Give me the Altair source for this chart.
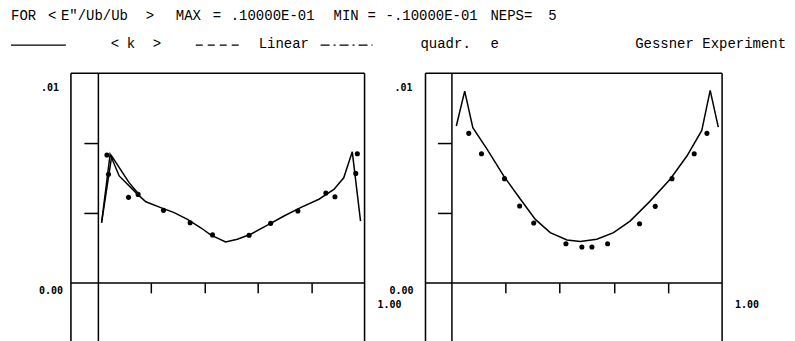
import altair as alt
import pandas as pd

# ---------------- data ----------------
# left panel: model curve < k >
left_k_x = [0.014, 0.046, 0.080, 0.149, 0.180, 0.236, 0.286, 0.336, 0.386, 0.423, 0.479,
            0.523, 0.573, 0.636, 0.698, 0.760, 0.829, 0.885, 0.922, 0.954, 0.985]
left_k_y = [0.00287, 0.00613, 0.00510, 0.00422, 0.00387, 0.00359, 0.00335, 0.00303, 0.00263,
            0.00229, 0.00195, 0.00208, 0.00232, 0.00276, 0.00319, 0.00359, 0.00399, 0.00446,
            0.00501, 0.00625, 0.00295]
# left panel: second curve, only visible where it separates near the left peak
left_lin_x = [0.014, 0.052, 0.117, 0.149]
left_lin_y = [0.00287, 0.00605, 0.00478, 0.00430]
# left panel: Gessner experiment
left_exp_x = [0.034, 0.040, 0.115, 0.151, 0.246, 0.346, 0.430, 0.567, 0.648, 0.750, 0.855,
              0.889, 0.973, 0.967]
left_exp_y = [0.00610, 0.00518, 0.00408, 0.00422, 0.00346, 0.00287, 0.00229, 0.00227, 0.00284,
              0.00343, 0.00429, 0.00411, 0.00616, 0.00522]

# right panel: model curve
right_k_x = [0.018, 0.049, 0.079, 0.132, 0.193, 0.255, 0.310, 0.365, 0.427, 0.476, 0.537,
             0.599, 0.660, 0.734, 0.808, 0.870, 0.925, 0.956, 0.986]
right_k_y = [0.00748, 0.00914, 0.00740, 0.00637, 0.00510, 0.00399, 0.00303, 0.00240, 0.00205,
             0.00197, 0.00208, 0.00240, 0.00295, 0.00390, 0.00494, 0.00605, 0.00727, 0.00918,
             0.00743]
# right panel: Gessner experiment
right_exp_x = [0.064, 0.111, 0.196, 0.252, 0.304, 0.423, 0.482, 0.519, 0.577, 0.695, 0.753,
               0.815, 0.897, 0.944]
right_exp_y = [0.00713, 0.00616, 0.00497, 0.00367, 0.00286, 0.00187, 0.00171, 0.00171, 0.00187,
               0.00282, 0.00365, 0.00497, 0.00616, 0.00713]

x_tick_values = [0.2, 0.4, 0.6, 0.8]
y_tick_values = [0.01 / 3, 0.02 / 3]
y_domain = [-0.0029, 0.01]

header_row1 = ["FOR", "<", 'E"/Ub/Ub', ">", "MAX", "=", ".10000E-01", "MIN", "=",
               "-.10000E-01", "NEPS=", "5"]
header_row2 = ["<", "k", ">", "Linear", "quadr.", "e", "Gessner Experiment"]
label_top = ".01"
label_zero = "0.00"
label_one = "1.00"

FONT = "Liberation Mono"
LABEL_FONT = "DejaVu Sans Mono"
LW = 1.5
one = pd.DataFrame({"d": [0]})


def text_layer(s, x, y, size=14, align="left", weight="normal", font=FONT):
    return alt.Chart(one).mark_text(
        font=font, fontSize=size, align=align, baseline="middle", color="black",
        fontWeight=weight
    ).encode(x=alt.value(x), y=alt.value(y), text=alt.value(s))


def rule_layer(x1, x2, y, dash=None):
    kw = dict(color="black", strokeWidth=1.2)
    if dash:
        kw["strokeDash"] = dash
    return alt.Chart(one).mark_rule(**kw).encode(
        x=alt.value(x1), x2=alt.value(x2), y=alt.value(y))


def panel(lines, dots, xmin, width, zero_px, extra):
    xs = alt.Scale(domain=[xmin, 1.0], nice=False, zero=False)
    ys = alt.Scale(domain=y_domain, nice=False, zero=False)
    xaxis = alt.Axis(orient="bottom", offset=-61, values=x_tick_values, labels=False,
                     title=None, grid=False, tickSize=10, tickColor="black", tickWidth=LW,
                     domain=False)
    yaxis = alt.Axis(orient="left", offset=-zero_px, values=y_tick_values, labels=False,
                     title=None, grid=False, tickSize=14, tickColor="black", tickWidth=LW,
                     domainColor="black", domainWidth=LW)
    layers = []
    # frame: vertical edges, top edge and the zero line (built from the scale extremes)
    vert = pd.DataFrame({"x": [xmin, 1.0], "y": [y_domain[0]] * 2, "y2": [y_domain[1]] * 2})
    layers.append(alt.Chart(vert).mark_rule(color="black", strokeWidth=LW).encode(
        x=alt.X("x:Q", scale=xs, axis=xaxis),
        y=alt.Y("y:Q", scale=ys, axis=yaxis), y2="y2:Q"))
    horiz = pd.DataFrame({"y": [0.0, y_domain[1]], "x": [xmin] * 2, "x2": [1.0] * 2})
    layers.append(alt.Chart(horiz).mark_rule(color="black", strokeWidth=LW).encode(
        x=alt.X("x:Q", scale=xs), x2="x2:Q", y=alt.Y("y:Q", scale=ys)))
    for lx, ly in lines:
        df = pd.DataFrame({"x": lx, "y": ly})
        layers.append(alt.Chart(df).mark_line(color="black", strokeWidth=LW).encode(
            x=alt.X("x:Q", scale=xs), y=alt.Y("y:Q", scale=ys)))
    dx, dy = dots
    ddf = pd.DataFrame({"x": dx, "y": dy})
    layers.append(alt.Chart(ddf).mark_circle(color="black", size=26, opacity=1).encode(
        x=alt.X("x:Q", scale=xs), y=alt.Y("y:Q", scale=ys)))
    layers.extend(extra)
    return alt.layer(*layers).properties(width=width, height=271)


# ---------- annotations (pixel positions relative to left plot origin) ----------
left_extra = [
    # anchor so that the left plot origin lands at page (70, 72)
    alt.Chart(one).mark_rule(strokeOpacity=0).encode(
        x=alt.value(-62), x2=alt.value(-61), y=alt.value(-64)),
    text_layer(header_row1[0], -60, -57),
    text_layer(header_row1[1], -23, -57),
    text_layer(header_row1[2], -10, -57),
    text_layer(header_row1[3], 75, -57),
    text_layer(header_row1[4], 105, -57),
    text_layer(header_row1[5], 142, -57),
    text_layer(header_row1[6], 160, -57),
    text_layer(header_row1[7], 263, -57),
    text_layer(header_row1[8], 297, -57),
    text_layer(header_row1[9], 315, -57),
    text_layer(header_row1[10], 420, -57),
    text_layer(header_row1[11], 478, -57),
    rule_layer(-60, -5, -28),
    text_layer(header_row2[0], 40, -29),
    text_layer(header_row2[1], 56, -29),
    text_layer(header_row2[2], 82, -29),
    rule_layer(125, 170, -28, [7, 5]),
    text_layer(header_row2[3], 188, -29),
    rule_layer(250, 302, -28, [9, 4, 2, 4]),
    text_layer(header_row2[4], 350, -29),
    text_layer(header_row2[5], 420, -29),
    text_layer(header_row2[6], 565, -29),
    text_layer(label_top, -12, 15, size=10, align="right", weight="bold", font=LABEL_FONT),
    text_layer(label_zero, -8, 218, size=10, align="right", weight="bold", font=LABEL_FONT),
    text_layer(label_one, 307, 232, size=10, weight="bold", font=LABEL_FONT),
]
right_extra = [
    text_layer(label_top, -13, 15, size=10, align="right", weight="bold", font=LABEL_FONT),
    text_layer(label_zero, -12, 218, size=10, align="right", weight="bold", font=LABEL_FONT),
    text_layer(label_one, 310, 232, size=10, weight="bold", font=LABEL_FONT),
]

left = panel([(left_k_x, left_k_y), (left_lin_x, left_lin_y)], (left_exp_x, left_exp_y),
             -0.101, 294, 27, left_extra)
right = panel([(right_k_x, right_k_y)], (right_exp_x, right_exp_y),
              -0.096, 297, 26, right_extra)

chart = alt.hconcat(left, right, spacing=61, bounds="flush").properties(
    padding=0
).configure_view(stroke=None).configure(background="white")

chart.save("out.html", embed_options={"renderer": "svg", "actions": False})
